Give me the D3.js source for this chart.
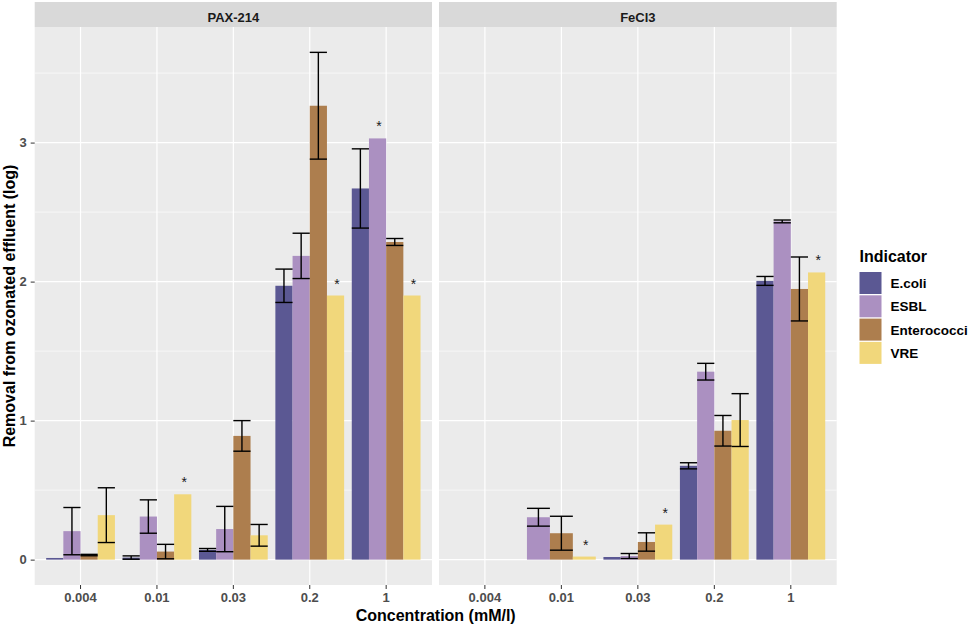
<!DOCTYPE html>
<html>
<head>
<meta charset="utf-8">
<script src="https://cdn.jsdelivr.net/npm/d3@7"></script>
<style>
  body { margin: 0; background: #fff; }
  text { font-family: "Liberation Sans", Arial, sans-serif; }
</style>
</head>
<body>
<div id="chart"></div>
<script>
// categories
const concentrations = ["0.004", "0.01", "0.03", "0.2", "1"];
const indicators = ["E.coli", "ESBL", "Enterococci", "VRE"];
const indicatorColors = ["#5b5893", "#ab90c1", "#ad7e4e", "#f1d77b"];

// mean removal (log), one row per indicator, one column per concentration (null = no data)
const paxMeans = [
  [0.012, 0.015, 0.07, 1.97, 2.67],
  [0.205, 0.31, 0.22, 2.185, 3.03],
  [0.033, 0.058, 0.89, 3.265, 2.285],
  [0.32, 0.47, 0.175, 1.9, 1.9]
];
const paxErrors = [
  [null, 0.012, 0.01, 0.12, 0.285],
  [0.17, 0.12, 0.163, 0.163, null],
  [0.005, 0.052, 0.11, 0.384, 0.025],
  [0.197, null, 0.078, null, null]
];
const paxStars = [
  [0, 0, 0, 0, 0],
  [0, 0, 0, 0, 1],
  [0, 0, 0, 0, 0],
  [0, 1, 0, 1, 1]
];

const feMeans = [
  [null, null, 0.019, 0.675, 2.005],
  [null, 0.305, 0.026, 1.352, 2.433],
  [null, 0.19, 0.127, 0.927, 1.947],
  [null, 0.022, 0.252, 1.004, 2.066]
];
const feErrors = [
  [null, null, null, 0.022, 0.032],
  [null, 0.064, 0.018, 0.06, 0.01],
  [null, 0.122, 0.066, 0.11, 0.23],
  [null, null, null, 0.19, null]
];
const feStars = [
  [0, 0, 0, 0, 0],
  [0, 0, 0, 0, 0],
  [0, 0, 0, 0, 0],
  [0, 1, 1, 0, 1]
];

const yTicks = [0, 1, 2, 3];
const yMinorTicks = [0.5, 1.5, 2.5, 3.5];

// layout
const W = 969, H = 629;
const plotTop = 27, plotBottom = 585, stripTop = 2;
const panels = [
  { name: "PAX-214", x0: 34.7, x1: 432, means: paxMeans, errors: paxErrors, stars: paxStars, weight: "bold" },
  { name: "FeCl3", x0: 439, x1: 836.7, means: feMeans, errors: feErrors, stars: feStars, weight: "bold" }
];

const svg = d3.select("#chart").append("svg")
  .attr("width", W)
  .attr("height", H);

// shared y scale, ggplot style 5% expansion
let yMax = 0;
panels.forEach(p => {
  p.means.forEach((row, i) => row.forEach((m, j) => {
    if (m == null) return;
    const e = p.errors[i][j] || 0;
    yMax = Math.max(yMax, m + e);
  }));
});
const yPad = yMax * 0.05;
const y = d3.scaleLinear().domain([-yPad, yMax + yPad]).range([plotBottom, plotTop]);
const color = d3.scaleOrdinal().domain(indicators).range(indicatorColors);

panels.forEach((p, pi) => {
  const g = svg.append("g");
  const x = d3.scaleBand()
    .domain(concentrations)
    .range([p.x0, p.x1])
    .paddingInner(0.1)
    .paddingOuter(0.15);

  // panel background
  g.append("rect")
    .attr("x", p.x0).attr("y", plotTop)
    .attr("width", p.x1 - p.x0).attr("height", plotBottom - plotTop)
    .attr("fill", "#ebebeb");

  // strip
  g.append("rect")
    .attr("x", p.x0).attr("y", stripTop)
    .attr("width", p.x1 - p.x0).attr("height", plotTop - stripTop)
    .attr("fill", "#d9d9d9");
  g.append("text")
    .attr("x", (p.x0 + p.x1) / 2).attr("y", 21.5)
    .attr("text-anchor", "middle")
    .attr("font-size", 13)
    .attr("font-weight", p.weight)
    .attr("fill", "#1a1a1a")
    .text(p.name);

  // grid
  g.selectAll(".minor").data(yMinorTicks).enter().append("line")
    .attr("x1", p.x0).attr("x2", p.x1)
    .attr("y1", d => y(d)).attr("y2", d => y(d))
    .attr("stroke", "#fff").attr("stroke-width", 0.6);
  g.selectAll(".major").data(yTicks).enter().append("line")
    .attr("x1", p.x0).attr("x2", p.x1)
    .attr("y1", d => y(d)).attr("y2", d => y(d))
    .attr("stroke", "#fff").attr("stroke-width", 1.2);
  g.selectAll(".vmajor").data(concentrations).enter().append("line")
    .attr("x1", d => x(d) + x.bandwidth() / 2).attr("x2", d => x(d) + x.bandwidth() / 2)
    .attr("y1", plotTop).attr("y2", plotBottom)
    .attr("stroke", "#fff").attr("stroke-width", 1.2);

  // bars, dodged among the indicators present in each group
  concentrations.forEach((c, j) => {
    const present = indicators.filter((ind, i) => p.means[i][j] != null);
    if (!present.length) return;
    const sub = d3.scaleBand().domain(present).range([0, x.bandwidth()]);
    const rows = present.map(ind => {
      const i = indicators.indexOf(ind);
      return { ind: ind, mean: p.means[i][j], err: p.errors[i][j], star: p.stars[i][j] };
    });
    const grp = g.append("g").attr("transform", `translate(${x(c)},0)`);

    grp.selectAll("rect").data(rows).enter().append("rect")
      .attr("x", d => sub(d.ind))
      .attr("width", sub.bandwidth())
      .attr("y", d => y(d.mean))
      .attr("height", d => y(0) - y(d.mean))
      .attr("fill", d => color(d.ind));

    const eb = grp.selectAll(".eb").data(rows.filter(d => d.err != null)).enter().append("g")
      .attr("stroke", "#000").attr("stroke-width", 1.4);
    eb.append("line")
      .attr("x1", d => sub(d.ind) + sub.bandwidth() / 2)
      .attr("x2", d => sub(d.ind) + sub.bandwidth() / 2)
      .attr("y1", d => y(d.mean + d.err)).attr("y2", d => y(d.mean - d.err));
    eb.append("line")
      .attr("x1", d => sub(d.ind)).attr("x2", d => sub(d.ind) + sub.bandwidth())
      .attr("y1", d => y(d.mean + d.err)).attr("y2", d => y(d.mean + d.err));
    eb.append("line")
      .attr("x1", d => sub(d.ind)).attr("x2", d => sub(d.ind) + sub.bandwidth())
      .attr("y1", d => y(d.mean - d.err)).attr("y2", d => y(d.mean - d.err));

    grp.selectAll(".star").data(rows.filter(d => d.star)).enter().append("text")
      .attr("x", d => sub(d.ind) + sub.bandwidth() / 2 + 1.5)
      .attr("y", d => y(d.mean) - 7)
      .attr("text-anchor", "middle")
      .attr("font-size", 14)
      .attr("fill", "#1a1a1a")
      .text("*");
  });

  // x axis
  const xAxis = g.append("g")
    .attr("transform", `translate(0,${plotBottom})`)
    .call(d3.axisBottom(x).tickSize(4).tickPadding(4).tickSizeOuter(0));
  xAxis.select(".domain").remove();
  xAxis.selectAll("line").attr("stroke", "#333");
  xAxis.selectAll("text")
    .attr("font-size", 13).attr("font-weight", "bold")
    .attr("fill", "#4d4d4d")
    .style("font-family", "'Liberation Sans', Arial, sans-serif");

  // y axis on first panel only
  if (pi === 0) {
    const yAxis = g.append("g")
      .attr("transform", `translate(${p.x0},0)`)
      .call(d3.axisLeft(y).tickValues(yTicks).tickFormat(d3.format("d")).tickSize(4).tickPadding(4).tickSizeOuter(0));
    yAxis.select(".domain").remove();
    yAxis.selectAll("line").attr("stroke", "#333");
    yAxis.selectAll("text")
      .attr("font-size", 13).attr("font-weight", "bold")
      .attr("fill", "#4d4d4d")
      .style("font-family", "'Liberation Sans', Arial, sans-serif");
  }
});

// axis titles
svg.append("text")
  .attr("x", (panels[0].x0 + panels[1].x1) / 2).attr("y", 621)
  .attr("text-anchor", "middle")
  .attr("font-size", 16).attr("font-weight", "bold")
  .text("Concentration (mM/l)");

svg.append("text")
  .attr("transform", `translate(15,${(plotTop + plotBottom) / 2}) rotate(-90)`)
  .attr("text-anchor", "middle")
  .attr("font-size", 16).attr("font-weight", "bold")
  .text("Removal from ozonated effluent (log)");

// legend
const legend = svg.append("g").attr("transform", "translate(859.5,0)");
legend.append("text")
  .attr("x", 0).attr("y", 261.5)
  .attr("font-size", 16).attr("font-weight", "bold")
  .text("Indicator");
const keys = legend.selectAll(".key").data(indicators).enter().append("g")
  .attr("transform", (d, i) => `translate(0,${272 + i * 23.3})`);
keys.append("rect")
  .attr("width", 22).attr("height", 22)
  .attr("fill", d => color(d));
keys.append("text")
  .attr("x", 31).attr("y", 16)
  .attr("font-size", 13.5).attr("font-weight", "bold")
  .text(d => d);
</script>
</body>
</html>
